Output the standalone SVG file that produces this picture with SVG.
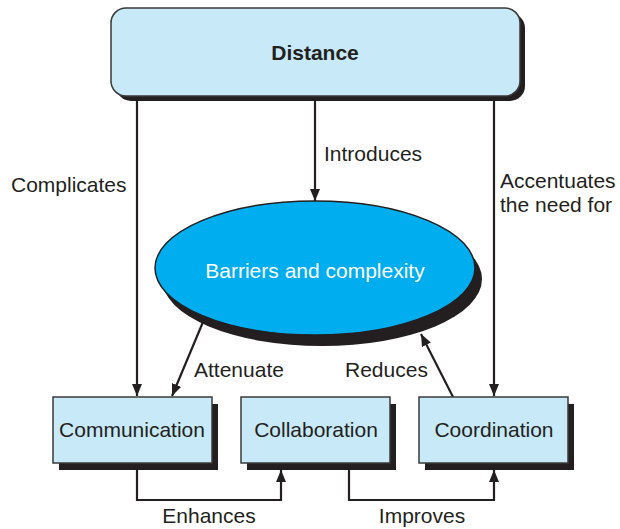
<svg xmlns="http://www.w3.org/2000/svg" width="620" height="529" viewBox="0 0 620 529">
<defs>
<marker id="ah" viewBox="0 0 12 10" refX="12" refY="5" markerWidth="12" markerHeight="10" markerUnits="userSpaceOnUse" orient="auto">
<path d="M0,0 L12,5 L0,10 Z" fill="#231f20"/>
</marker>
<style>
.t{font-family:"Liberation Sans",Arial,sans-serif;font-size:21px;fill:#231f20}
.box{fill:#c8e9f8;stroke:#3a3a3a;stroke-width:1.5}
.sh{fill:#231f20}
.ln{fill:none;stroke:#231f20;stroke-width:2.2}
</style>
</defs>
<rect width="620" height="529" fill="#fff"/>
<g id="connectors">
<line class="ln" x1="137" y1="97" x2="137" y2="396" marker-end="url(#ah)"/>
<line class="ln" x1="315" y1="97" x2="315" y2="201" marker-end="url(#ah)"/>
<line class="ln" x1="494" y1="97" x2="494" y2="396" marker-end="url(#ah)"/>
<line class="ln" x1="203" y1="322" x2="172" y2="396" marker-end="url(#ah)"/>
<line class="ln" x1="453" y1="397" x2="421" y2="334" marker-end="url(#ah)"/>
<polyline class="ln" points="137,463 137,500 281,500 281,470" marker-end="url(#ah)"/>
<polyline class="ln" points="349,463 349,500 494,500 494,470" marker-end="url(#ah)"/>
<text class="t" x="324" y="161">Introduces</text>
<text class="t" x="11" y="192">Complicates</text>
<text class="t" x="500" y="188">Accentuates</text>
<text class="t" x="500" y="212">the need for</text>
<text class="t" x="194" y="377">Attenuate</text>
<text class="t" x="345" y="377">Reduces</text>
<text class="t" x="209" y="523" text-anchor="middle">Enhances</text>
<text class="t" x="422" y="523" text-anchor="middle">Improves</text>
</g>
<g id="distance">
<rect class="sh" x="116" y="13" width="409" height="88" rx="15"/>
<rect class="box" x="111" y="8" width="409" height="88" rx="15"/>
<text class="t" x="315" y="60" text-anchor="middle" font-weight="bold">Distance</text>
</g>
<g id="barriers">
<ellipse class="sh" cx="322" cy="279" rx="160" ry="67"/>
<ellipse cx="315" cy="268" rx="160" ry="67" fill="#00aeef" stroke="#231f20" stroke-width="1.5"/>
<text class="t" x="315" y="278" text-anchor="middle" style="fill:#fff">Barriers and complexity</text>
</g>
<g id="communication">
<rect class="sh" x="59" y="404" width="159" height="66"/>
<rect class="box" x="53" y="397" width="159" height="66"/>
<text class="t" x="132" y="437" text-anchor="middle">Communication</text>
</g>
<g id="collaboration">
<rect class="sh" x="247" y="404" width="149" height="66"/>
<rect class="box" x="241" y="397" width="149" height="66"/>
<text class="t" x="316" y="437" text-anchor="middle">Collaboration</text>
</g>
<g id="coordination">
<rect class="sh" x="425" y="404" width="149" height="66"/>
<rect class="box" x="419" y="397" width="149" height="66"/>
<text class="t" x="494" y="437" text-anchor="middle">Coordination</text>
</g>
</svg>
